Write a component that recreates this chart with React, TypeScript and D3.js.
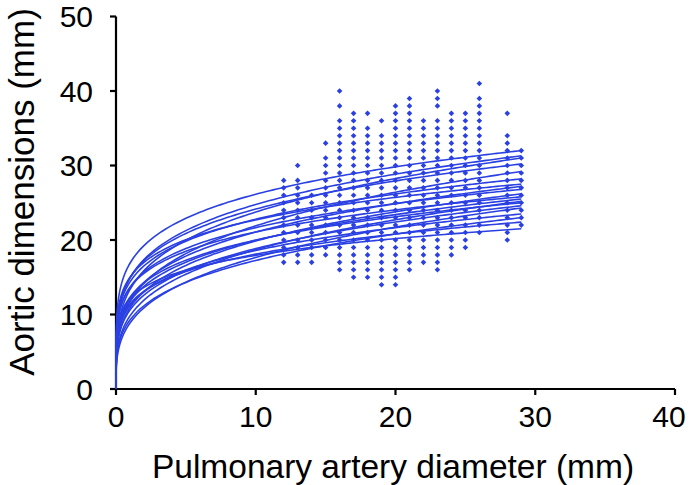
import React from "react";
import * as d3 from "d3";

// ---- data ----
const xTicks = [0, 10, 20, 30, 40];
const yTicks = [0, 10, 20, 30, 40, 50];

// scatter: pulmonary artery diameter (x) -> aortic dimension values (y)
const pa12 = [17, 18, 19, 20, 21, 22, 23, 24, 25, 26, 27, 28];
const pa13 = [17, 18, 19, 20, 21, 22, 23, 24, 25, 26, 27, 28, 30];
const pa14 = [17, 18, 19, 20, 21, 22, 23, 24, 25, 26];
const pa15 = [18, 19, 20, 21, 22, 23, 24, 25, 26, 27, 28, 29, 30, 31, 33];
const pa16 = [16, 17, 18, 19, 20, 21, 22, 23, 24, 25, 26, 27, 28, 29, 30, 31, 32, 33, 34, 35, 36, 38, 40];
const pa17 = [15, 16, 17, 18, 19, 20, 21, 22, 23, 24, 25, 26, 27, 28, 29, 30, 31, 32, 33, 34, 35, 36, 37];
const pa18 = [15, 16, 17, 18, 19, 20, 21, 22, 23, 24, 25, 26, 27, 28, 29, 30, 31, 32, 33, 34, 35, 37];
const pa19 = [14, 15, 16, 17, 18, 19, 20, 21, 22, 23, 24, 25, 26, 27, 28, 29, 30, 31, 32, 33, 34, 36];
const pa20 = [14, 15, 16, 17, 18, 19, 20, 21, 22, 23, 24, 25, 26, 27, 28, 29, 30, 31, 32, 33, 34, 35, 36, 37, 38];
const pa21 = [16, 17, 18, 19, 20, 21, 22, 23, 24, 25, 26, 27, 28, 29, 30, 31, 32, 33, 34, 35, 36, 37, 38, 39];
const pa22 = [17, 18, 19, 20, 21, 22, 23, 24, 25, 26, 27, 28, 29, 30, 31, 32, 33, 34, 35, 36];
const pa23 = [16, 17, 18, 19, 20, 21, 22, 23, 24, 25, 26, 27, 28, 29, 30, 31, 32, 33, 34, 35, 36, 38, 39, 40];
const pa24 = [18, 19, 20, 21, 22, 23, 24, 25, 26, 27, 28, 29, 30, 31, 32, 33, 34, 35, 36, 37];
const pa25 = [19, 20, 21, 22, 23, 24, 25, 26, 27, 28, 29, 30, 31, 32, 33, 34, 35, 36, 37];
const pa26 = [21, 22, 23, 24, 25, 26, 27, 28, 29, 30, 31, 32, 33, 34, 35, 36, 37, 38, 39, 41];
const pa28 = [20, 21, 22, 23, 24, 25, 26, 27, 28, 29, 30, 31, 32, 33, 34, 37];
const pa29 = [22, 23, 24, 25, 26, 27, 28, 29, 30, 31, 32];

const scatterColumns: [number, number[]][] = [
  [12, pa12], [13, pa13], [14, pa14], [15, pa15], [16, pa16], [17, pa17],
  [18, pa18], [19, pa19], [20, pa20], [21, pa21], [22, pa22], [23, pa23],
  [24, pa24], [25, pa25], [26, pa26], [28, pa28], [29, pa29],
];

// fitted power curves y = a * x^b, given by value at x = 29 and exponent b
const curveEndX = 29;
const curveEndValues = [32.0, 31.3, 31.0, 30.2, 29.2, 28.2, 27.5, 27.2, 26.8, 26.2, 25.8, 25.5, 25.2, 25.0, 24.6, 24.3, 23.5, 23.0, 22.4, 21.5];
const curveExponents = [0.19, 0.22, 0.25, 0.21, 0.27, 0.2, 0.18, 0.24, 0.2, 0.26, 0.19, 0.23, 0.28, 0.21, 0.25, 0.3, 0.22, 0.27, 0.2, 0.17];

const BLUE = "#2a40e2";

export default function App() {
  const W = 690, H = 485;
  const x = d3.scaleLinear().domain([0, 40]).range([116, 675]);
  const y = d3.scaleLinear().domain([0, 50]).range([389, 16.5]);

  const samples = [...d3.range(0, 1, 0.01), ...d3.range(1, curveEndX + 0.001, 0.25)];
  const line = d3.line<[number, number]>().x(d => x(d[0])).y(d => y(d[1]));

  const curves = curveEndValues.map((end, i) => {
    const b = curveExponents[i];
    const a = end / Math.pow(curveEndX, b);
    return samples.map(s => [s, a * Math.pow(s, b)] as [number, number]);
  });

  const pts: [number, number][] = [];
  scatterColumns.forEach(([px, vals]) => vals.forEach(v => pts.push([px, v])));

  const diamond = (cx: number, cy: number, r: number) =>
    `M${cx},${cy - r}L${cx + r},${cy}L${cx},${cy + r}L${cx - r},${cy}Z`;

  const font = "'Liberation Sans', Arial, Helvetica, sans-serif";

  return (
    <div style={{ position: "absolute", left: 0, top: 0 }}>
      <svg width={W} height={H} style={{ display: "block", background: "#fff" }}>
        {/* axes */}
        <g stroke="#000" strokeWidth={2.2} fill="none">
          <line x1={x(0)} x2={x(40)} y1={y(0)} y2={y(0)} />
          <line x1={x(0)} x2={x(0)} y1={y(0)} y2={y(50)} />
          {xTicks.map(t => (
            <line key={"xt" + t} x1={x(t)} x2={x(t)} y1={y(0)} y2={y(0) + 6} />
          ))}
          {yTicks.map(t => (
            <line key={"yt" + t} x1={x(0) - 6} x2={x(0)} y1={y(t)} y2={y(t)} />
          ))}
        </g>
        {/* scatter */}
        <g fill={BLUE}>
          {pts.map((p, i) => (
            <path key={i} d={diamond(x(p[0]), y(p[1]), 2.8)} />
          ))}
        </g>
        {/* curves */}
        <g fill="none" stroke={BLUE} strokeWidth={1.6}>
          {curves.map((c, i) => (
            <path key={i} d={line(c) || ""} />
          ))}
        </g>
        {/* tick labels */}
        <g fontFamily={font} fontSize={30} fill="#000">
          {xTicks.map(t => (
            <text key={"xl" + t} x={Math.min(x(t), 669)} y={427} textAnchor="middle">
              {t}
            </text>
          ))}
          {yTicks.map(t => (
            <text key={"yl" + t} x={93} y={y(t)} dy="0.36em" textAnchor="end">
              {t}
            </text>
          ))}
        </g>
        <text x={393} y={478} textAnchor="middle" fontFamily={font} fontSize={33.5} fill="#000">
          Pulmonary artery diameter (mm)
        </text>
        <text
          transform={`translate(34,192) rotate(-90)`}
          textAnchor="middle"
          fontFamily={font}
          fontSize={35}
          fill="#000"
        >
          Aortic dimensions (mm)
        </text>
      </svg>
    </div>
  );
}
